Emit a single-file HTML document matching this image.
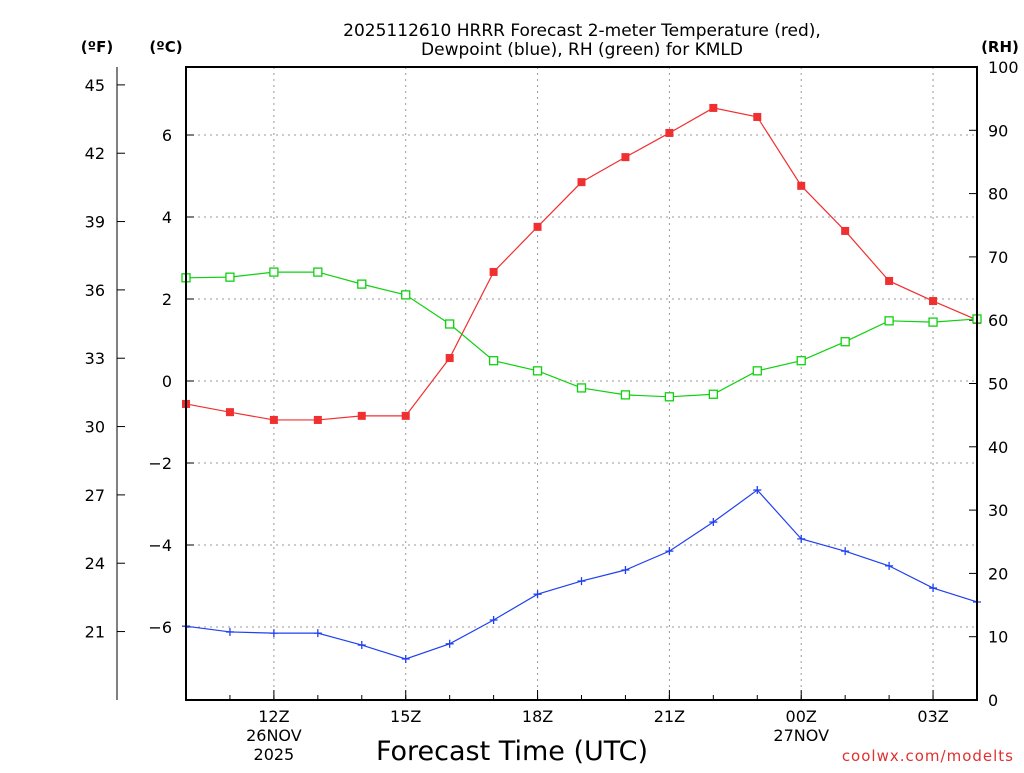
<!DOCTYPE html>
<html><head><meta charset="utf-8"><style>
body{margin:0;background:#fff;width:1024px;height:768px;overflow:hidden}
svg text{font-family:"DejaVu Sans","Liberation Sans",sans-serif}
</style></head><body>
<svg id="chart" width="1024" height="768" viewBox="0 0 1024 768" xmlns="http://www.w3.org/2000/svg">
<text x="582" y="36" font-size="17" text-anchor="middle">2025112610 HRRR Forecast 2-meter Temperature (red),</text>
<text x="582" y="55" font-size="17" text-anchor="middle">Dewpoint (blue), RH (green) for KMLD</text>
<text x="97" y="52" font-size="15" font-weight="bold" text-anchor="middle">(ºF)</text>
<text x="166" y="52" font-size="15" font-weight="bold" text-anchor="middle">(ºC)</text>
<text x="1000" y="52" font-size="15" font-weight="bold" text-anchor="middle">(RH)</text>
<g id="grid"></g>
<g id="axes"></g>
<g id="series"></g>
<rect x="186" y="67" width="791" height="633" fill="none" stroke="#000" stroke-width="2"/>
<text x="512" y="760" font-size="27" text-anchor="middle">Forecast Time (UTC)</text>
<text x="1014" y="761" font-size="15" fill="#e03030" text-anchor="end" letter-spacing="1">coolwx.com/modelts</text>
</svg>
<script>
const hours=[10,11,12,13,14,15,16,17,18,19,20,21,22,23,24,25,26,27,28];
const tempC=[-0.56,-0.76,-0.95,-0.95,-0.85,-0.85,0.56,2.66,3.76,4.85,5.46,6.05,6.66,6.44,4.76,3.66,2.44,1.95,1.49];
const dewC=[-5.98,-6.12,-6.15,-6.15,-6.44,-6.78,-6.41,-5.83,-5.2,-4.88,-4.61,-4.15,-3.44,-2.66,-3.85,-4.15,-4.51,-5.05,-5.39];
const rh=[66.7,66.8,67.6,67.6,65.7,64.0,59.4,53.6,52.0,49.3,48.2,47.9,48.3,52.0,53.6,56.6,59.9,59.7,60.2];
const cTicks=[-6,-4,-2,0,2,4,6];
const fTicks=[21,24,27,30,33,36,39,42,45];
const rhTicks=[0,10,20,30,40,50,60,70,80,90,100];
const xTickHours=[12,15,18,21,24,27];
const xTickLabels=["12Z","15Z","18Z","21Z","00Z","03Z"];
const x0=186,x1=977,y0=67,y1=700;
const xs=h=>x0+(h-10)*(x1-x0)/18;
const yc=c=>381-c*41;
const yf=f=>yc((f-32)/1.8);
const yr=r=>y1-r*(y1-y0)/100;
const NS="http://www.w3.org/2000/svg";
function mk(parent,tag,attrs){const e=document.createElementNS(NS,tag);for(const k in attrs)e.setAttribute(k,attrs[k]);parent.appendChild(e);return e;}
const grid=document.getElementById('grid'),axes=document.getElementById('axes'),ser=document.getElementById('series');
cTicks.forEach(c=>{const y=yc(c);
 const g=mk(grid,'line',{x1:x0,x2:x1,y1:y,y2:y,stroke:'#999','stroke-dasharray':'2,4'});
 
 
 const t=mk(axes,'line',{x1:x0,x2:x0+8,y1:y,y2:y,stroke:'#000'});
 
 
 const l=mk(axes,'text',{x:172,y:y+6,'font-size':16,'text-anchor':'end'});l.textContent=c<0?'\u2212'+(-c):c;
 
 
});
mk(axes,'line',{x1:117,x2:117,y1:y0,y2:y1,stroke:'#000'});
fTicks.forEach(f=>{const y=yf(f);
 const t=mk(axes,'line',{x1:117,x2:125,y1:y,y2:y,stroke:'#000'});
 
 
 const l=mk(axes,'text',{x:105,y:y+6,'font-size':16,'text-anchor':'end'});l.textContent=f;
 
 
});
rhTicks.forEach(r=>{const y=yr(r);
 const t=mk(axes,'line',{x1:x1-8,x2:x1,y1:y,y2:y,stroke:'#000'});
 
 
 const l=mk(axes,'text',{x:988,y:y+6,'font-size':16});l.textContent=r;
 
 
});
hours.forEach(h=>{const x=xs(h);
 const t=mk(axes,'line',{x1:x,x2:x,y1:y1,y2:y1-5,stroke:'#000'});
 
 
});
xTickHours.forEach((h,i)=>{const x=xs(h);
 const g=mk(grid,'line',{x1:x,x2:x,y1:y0,y2:y1,stroke:'#999','stroke-dasharray':'2,4'});
 
 
 const t=mk(axes,'line',{x1:x,x2:x,y1:y1,y2:y1-10,stroke:'#000'});
 
 
 const l=mk(axes,'text',{x:x,y:722,'font-size':16,'text-anchor':'middle'});l.textContent=xTickLabels[i];
 
 
});
[["26NOV",xs(12),741],["2025",xs(12),760],["27NOV",xs(24),741]].forEach(d=>{
 const l=mk(axes,'text',{x:d[1],y:d[2],'font-size':16,'text-anchor':'middle'});l.textContent=d[0];
 
 
});
function line(vals,yfn,color,name){
 const p=mk(ser,'polyline',{points:vals.map((v,i)=>xs(hours[i])+','+yfn(v)).join(' '),fill:'none',stroke:color,'stroke-width':1.2});
 
 
}
line(tempC,yc,'#f03030','temperature');
line(dewC,yc,'#2040f0','dewpoint');
line(rh,yr,'#10d010','rh');
tempC.forEach((v,i)=>{const m=mk(ser,'rect',{x:xs(hours[i])-4,y:yc(v)-4,width:8,height:8,fill:'#f03030'});
 
 });
rh.forEach((v,i)=>{const m=mk(ser,'rect',{x:xs(hours[i])-4,y:yr(v)-4,width:8,height:8,fill:'#fff',stroke:'#10d010','stroke-width':1.3});
 
 });
dewC.forEach((v,i)=>{const x=xs(hours[i]),y=yc(v);
 const m=mk(ser,'path',{d:`M${x-4},${y}H${x+4}M${x},${y-4}V${y+4}`,stroke:'#2040f0','stroke-width':1.3});
 
 });
</script>
</body></html>
